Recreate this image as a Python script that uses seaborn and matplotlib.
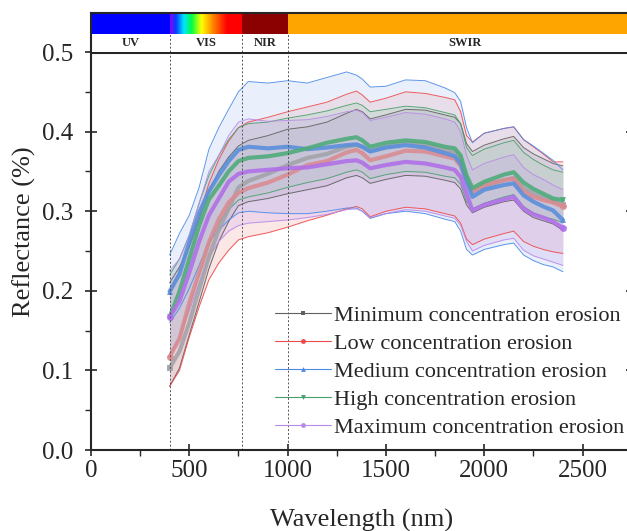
import numpy as np
import pandas as pd
import matplotlib
matplotlib.use("Agg")
import matplotlib.pyplot as plt
import seaborn as sns
from matplotlib.colors import LinearSegmentedColormap
from matplotlib.ticker import MultipleLocator

# wavelengths (nm) at which the spectra were read
wavelength = [400, 450, 500, 550, 600, 650, 700, 750, 800, 900, 1000, 1100, 1200,
              1300, 1350, 1380, 1420, 1500, 1600, 1700, 1800, 1850, 1880, 1910,
              1940, 2000, 2100, 2150, 2200, 2250, 2300, 2350, 2400]

# Minimum concentration erosion
min_mean = [0.103, 0.124, 0.160, 0.202, 0.243, 0.277, 0.303, 0.330, 0.338, 0.347, 0.358,
            0.367, 0.372, 0.381, 0.383, 0.381, 0.376, 0.381, 0.386, 0.384, 0.377, 0.374,
            0.365, 0.342, 0.324, 0.331, 0.339, 0.342, 0.329, 0.322, 0.317, 0.312, 0.308]
min_upper = [0.210, 0.230, 0.255, 0.290, 0.325, 0.350, 0.368, 0.382, 0.389, 0.395, 0.403,
             0.406, 0.412, 0.423, 0.428, 0.425, 0.416, 0.421, 0.428, 0.427, 0.421, 0.418,
             0.410, 0.385, 0.375, 0.383, 0.391, 0.394, 0.380, 0.372, 0.366, 0.360, 0.357]
min_lower = [0.080, 0.103, 0.145, 0.186, 0.228, 0.262, 0.287, 0.307, 0.312, 0.316, 0.322,
             0.327, 0.332, 0.342, 0.345, 0.342, 0.335, 0.340, 0.345, 0.344, 0.339, 0.336,
             0.328, 0.308, 0.298, 0.305, 0.312, 0.314, 0.300, 0.292, 0.288, 0.284, 0.276]

# Low concentration erosion
low_mean = [0.117, 0.140, 0.185, 0.223, 0.261, 0.290, 0.311, 0.323, 0.329, 0.336, 0.346,
            0.358, 0.363, 0.374, 0.377, 0.373, 0.364, 0.369, 0.376, 0.375, 0.369, 0.366,
            0.357, 0.338, 0.325, 0.333, 0.339, 0.341, 0.325, 0.318, 0.314, 0.311, 0.306]
low_upper = [0.195, 0.225, 0.258, 0.295, 0.335, 0.365, 0.388, 0.405, 0.412, 0.418, 0.425,
             0.431, 0.437, 0.447, 0.451, 0.446, 0.437, 0.442, 0.450, 0.448, 0.443, 0.440,
             0.425, 0.395, 0.387, 0.398, 0.404, 0.406, 0.390, 0.381, 0.372, 0.362, 0.362]
low_lower = [0.080, 0.100, 0.142, 0.180, 0.214, 0.235, 0.251, 0.264, 0.268, 0.273, 0.280,
             0.288, 0.295, 0.303, 0.306, 0.303, 0.293, 0.300, 0.305, 0.303, 0.297, 0.294,
             0.285, 0.265, 0.258, 0.265, 0.272, 0.275, 0.262, 0.256, 0.252, 0.249, 0.247]

# Medium concentration erosion
med_mean = [0.199, 0.221, 0.261, 0.298, 0.325, 0.345, 0.363, 0.377, 0.381, 0.379, 0.381,
            0.378, 0.380, 0.383, 0.384, 0.381, 0.375, 0.380, 0.383, 0.380, 0.373, 0.369,
            0.360, 0.338, 0.318, 0.327, 0.333, 0.335, 0.320, 0.312, 0.306, 0.301, 0.289]
med_upper = [0.245, 0.272, 0.295, 0.330, 0.378, 0.405, 0.428, 0.450, 0.463, 0.461, 0.464,
             0.461, 0.468, 0.475, 0.471, 0.466, 0.456, 0.457, 0.465, 0.464, 0.455, 0.449,
             0.438, 0.405, 0.386, 0.398, 0.404, 0.406, 0.390, 0.382, 0.373, 0.364, 0.352]
med_lower = [0.160, 0.178, 0.203, 0.232, 0.262, 0.276, 0.289, 0.298, 0.300, 0.298, 0.297,
             0.297, 0.300, 0.304, 0.304, 0.300, 0.291, 0.297, 0.300, 0.297, 0.290, 0.287,
             0.275, 0.252, 0.245, 0.252, 0.258, 0.260, 0.245, 0.238, 0.233, 0.230, 0.224]

# High concentration erosion
high_mean = [0.167, 0.199, 0.240, 0.282, 0.315, 0.332, 0.350, 0.363, 0.367, 0.369, 0.373,
             0.379, 0.386, 0.391, 0.393, 0.389, 0.381, 0.386, 0.389, 0.387, 0.381, 0.379,
             0.370, 0.345, 0.329, 0.337, 0.346, 0.349, 0.336, 0.328, 0.322, 0.316, 0.314]
high_upper = [0.220, 0.240, 0.270, 0.310, 0.345, 0.370, 0.390, 0.405, 0.410, 0.412, 0.417,
              0.421, 0.426, 0.433, 0.436, 0.433, 0.425, 0.428, 0.432, 0.430, 0.424, 0.421,
              0.410, 0.380, 0.370, 0.378, 0.386, 0.389, 0.374, 0.365, 0.358, 0.352, 0.349]
high_lower = [0.120, 0.140, 0.180, 0.220, 0.258, 0.285, 0.302, 0.314, 0.318, 0.323, 0.330,
              0.336, 0.341, 0.349, 0.352, 0.349, 0.341, 0.346, 0.350, 0.349, 0.344, 0.342,
              0.334, 0.312, 0.303, 0.310, 0.318, 0.321, 0.306, 0.298, 0.293, 0.290, 0.286]

# Maximum concentration erosion
max_mean = [0.167, 0.187, 0.223, 0.262, 0.295, 0.316, 0.337, 0.347, 0.350, 0.352, 0.354,
            0.355, 0.359, 0.363, 0.364, 0.361, 0.354, 0.358, 0.362, 0.360, 0.355, 0.352,
            0.343, 0.322, 0.301, 0.308, 0.315, 0.318, 0.303, 0.296, 0.292, 0.287, 0.279]
max_upper = [0.225, 0.240, 0.270, 0.310, 0.350, 0.370, 0.395, 0.412, 0.416, 0.413, 0.414,
             0.415, 0.419, 0.425, 0.427, 0.424, 0.414, 0.418, 0.424, 0.422, 0.416, 0.412,
             0.400, 0.370, 0.352, 0.360, 0.368, 0.371, 0.355, 0.346, 0.340, 0.333, 0.327]
max_lower = [0.120, 0.140, 0.175, 0.210, 0.242, 0.262, 0.275, 0.282, 0.285, 0.287, 0.289,
             0.292, 0.296, 0.302, 0.303, 0.300, 0.292, 0.297, 0.302, 0.300, 0.294, 0.291,
             0.282, 0.262, 0.250, 0.257, 0.264, 0.266, 0.251, 0.244, 0.240, 0.236, 0.232]

labels = ['Minimum concentration erosion', 'Low concentration erosion',
          'Medium concentration erosion', 'High concentration erosion',
          'Maximum concentration erosion']

# spectral regions for the header bar
region_names = ['UV', 'VIS', 'NIR', 'SWIR']
region_edges = [0, 400, 770, 1000, 2750]
vis_stops = [400, 430, 470, 510, 560, 620, 690, 770]
vis_colors = ['#8a00ff', '#0040ff', '#00e5ff', '#00ff40', '#ffff00', '#ff8000', '#ff0000', '#ff0000']

sns.set_style('ticks')
plt.rcParams['font.family'] = ['Liberation Serif', 'DejaVu Serif']

series = [
    (min_mean, min_upper, min_lower, '#a3a3aa', '#606060', '#9a9aa0', 's'),
    (low_mean, low_upper, low_lower, '#d98c92', '#ee4a4a', '#f5a0a0', 'o'),
    (med_mean, med_upper, med_lower, '#5a8fdc', '#4d8ae8', '#a9c6f2', '^'),
    (high_mean, high_upper, high_lower, '#4fab7a', '#4aa06c', '#9ccfb0', 'v'),
    (max_mean, max_upper, max_lower, '#b070e8', '#b98ae8', '#c9a6ee', 'o'),
]

fig = plt.figure(figsize=(6.27, 5.31), dpi=100)
ax = fig.add_axes([0.1451, 0.1525, 0.8624, 0.7495])
hdr = fig.add_axes([0.1451, 0.9021, 0.8624, 0.0734], sharex=ax)

wl = np.array(wavelength)
for (mean, up, lo, c_mean, c_edge, c_fill, mk), lab in zip(series, labels):
    ax.fill_between(wl, lo, up, color=c_fill, alpha=0.25, linewidth=0)
    sns.lineplot(x=wl, y=up, ax=ax, color=c_edge, linewidth=0.7, alpha=0.9)
    sns.lineplot(x=wl, y=lo, ax=ax, color=c_edge, linewidth=0.7, alpha=0.9)
for (mean, up, lo, c_mean, c_edge, c_fill, mk), lab in zip(series, labels):
    sns.lineplot(x=wl, y=mean, ax=ax, color=c_mean, linewidth=3.0, alpha=0.9,
                 marker=mk, markersize=5, markevery=[0, len(wl) - 1],
                 markeredgewidth=0, label='_nolegend_')

# legend handles
handles = []
for (mean, up, lo, c_mean, c_edge, c_fill, mk), lab in zip(series, labels):
    h, = ax.plot([], [], color=c_edge, linewidth=0.8, marker=mk, markersize=3.5,
                 markeredgewidth=0, label=lab)
    handles.append(h)
fig.legend(handles=handles, loc='upper left', bbox_to_anchor=(275 / 627, 1 - 305 / 531),
           frameon=False, fontsize=16, handlelength=2.5, handletextpad=0.15,
           labelspacing=0.34, borderpad=0, borderaxespad=0)

for x in region_edges[1:4]:
    ax.axvline(x, color='#555555', linestyle=(0, (2, 2)), linewidth=0.7)

ax.set_xlim(0, 2750)
ax.set_ylim(0, 0.5)
ax.xaxis.set_major_locator(MultipleLocator(500))
ax.xaxis.set_minor_locator(MultipleLocator(250))
ax.yaxis.set_major_locator(MultipleLocator(0.1))
ax.yaxis.set_minor_locator(MultipleLocator(0.05))
ax.yaxis.set_major_formatter(plt.FormatStrFormatter('%.1f'))
ax.tick_params(which='major', direction='inout', length=9, width=1.2, labelsize=18)
ax.tick_params(which='minor', direction='out', length=4.5, width=1.0)
ax.tick_params(axis='y', which='both', right=True)
ax.tick_params(axis='y', which='major', pad=8.5)
ax.tick_params(axis='x', which='major', pad=3)
for s in ax.spines.values():
    s.set_linewidth(1.5)
ax.spines['top'].set_linewidth(2.2)
ax.set_xlabel('Wavelength (nm)', fontsize=19, labelpad=19)
ax.set_ylabel('Reflectance (%)', fontsize=19)
ax.yaxis.set_label_coords(-0.102, 0.548)

# header bar with spectral regions
hdr.set_ylim(0, 1)
hdr.axvspan(region_edges[0], region_edges[1], ymin=0.46, ymax=1, color='#0000ff', linewidth=0)
cmap = LinearSegmentedColormap.from_list(
    'vis', [((s - vis_stops[0]) / (vis_stops[-1] - vis_stops[0]), c) for s, c in zip(vis_stops, vis_colors)])
hdr.imshow(np.linspace(0, 1, 256)[None, :], cmap=cmap, aspect='auto',
           extent=[region_edges[1], region_edges[2], 0.46, 1.0], zorder=1)
hdr.axvspan(region_edges[2], region_edges[3], ymin=0.46, ymax=1, color='#8b0000', linewidth=0)
hdr.axvspan(region_edges[3], region_edges[4], ymin=0.46, ymax=1, color='#ffa500', linewidth=0)
for x in region_edges[1:4]:
    hdr.plot([x, x], [0, 0.46], color='#555555', linestyle=(0, (2, 2)), linewidth=0.7)
label_pos = [200, 585, 885, 1900]
for name, xp in zip(region_names, label_pos):
    hdr.text(xp, 0.22, name, ha='center', va='center', fontsize=9, fontweight='bold')
hdr.set_xlim(0, 2750)
hdr.set_ylim(0, 1)
hdr.set_yticks([])
hdr.tick_params(axis='x', which='both', bottom=False, labelbottom=False, top=True,
                direction='in', length=3)
for s in hdr.spines.values():
    s.set_linewidth(1.5)
hdr.spines['bottom'].set_visible(False)

fig.savefig('out.png', dpi=100)
